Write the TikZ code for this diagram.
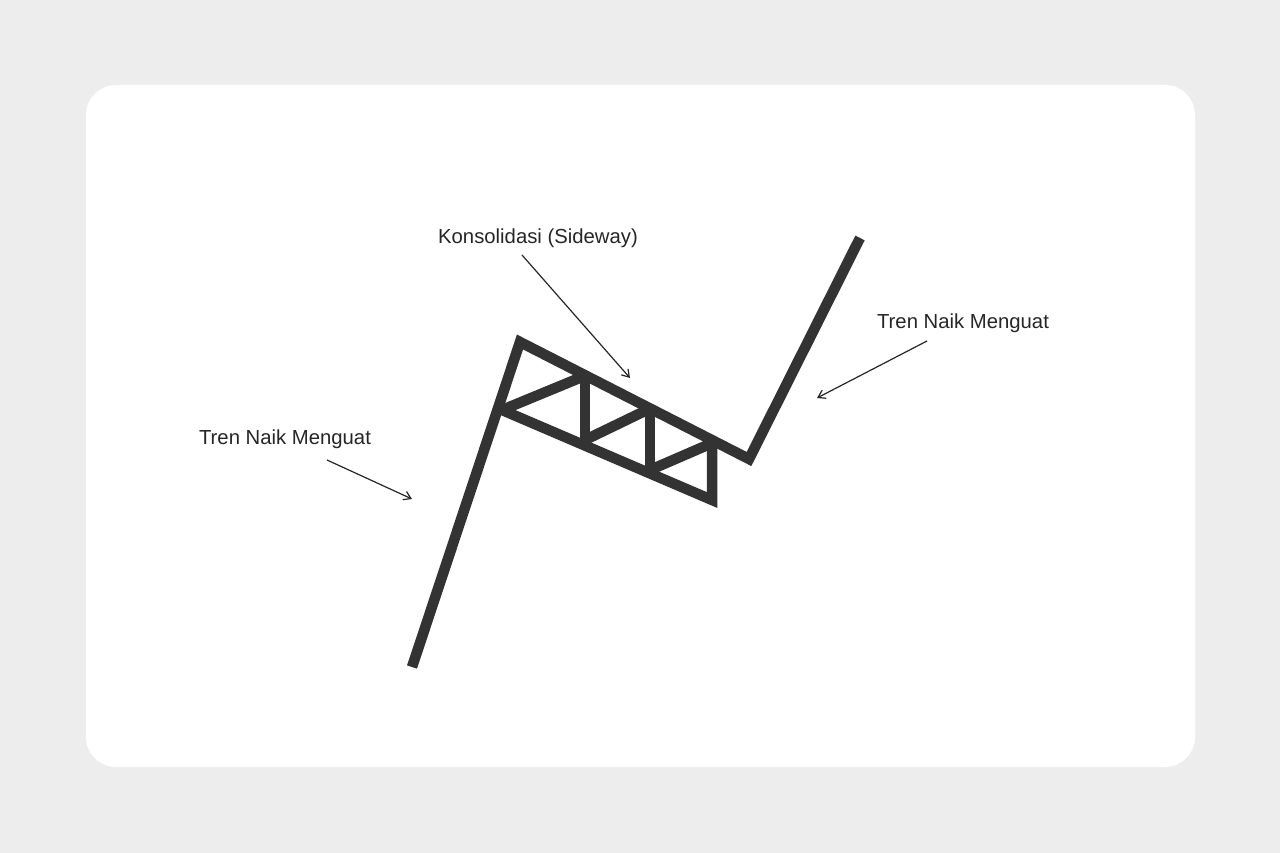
\documentclass[tikz,border=0pt]{standalone}
\usepackage{fontspec}
\setmainfont{Liberation Sans}
\usetikzlibrary{arrows.meta}
\begin{document}
\begin{tikzpicture}[x=1pt,y=-1pt,
  bar/.style={line width=10.5pt,draw=black!80,line join=miter},
  lbl/.style={font=\fontsize{20.3}{22}\selectfont,text=black!85,inner sep=0pt},
  pointer/.style={line width=1.2pt,black!85,-{Straight Barb[length=7pt,width=9pt]}}]
\fill[black!7] (0,0) rectangle (1280,853);
\useasboundingbox (0,0) rectangle (1280,853);
\fill[white,rounded corners=30pt] (86,85) rectangle (1195,767);
\coordinate (p0) at (412,667);
\coordinate (pk) at (520,342);
\coordinate (lj) at (502,410);
\coordinate (tr) at (749,459);
\coordinate (ep) at (860,238);
\coordinate (le) at (712,500);
\draw[bar] (p0) -- (pk) -- (tr) -- (ep);
\draw[bar] (lj) -- (le) -- (712,445);
\draw[bar] (585,378) -- (585,440);
\draw[bar] (650,411) -- (650,470);
\draw[bar] (lj) -- (582,377);
\draw[bar] (585,440) -- (647,410);
\draw[bar] (650,470) -- (710,444);
\node[lbl] (k) at (538,238) {Konsolidasi (Sideway)};
\node[lbl] (t1) at (285,439) {Tren Naik Menguat};
\node[lbl] (t2) at (963,323) {Tren Naik Menguat};
\coordinate (a1) at (630,378);
\coordinate (a2) at (412,499);
\coordinate (a3) at (817,398);
\draw[pointer] (522,255) -- (a1);
\draw[pointer] (327,460) -- (a2);
\draw[pointer] (927,341) -- (a3);
\end{tikzpicture}
\end{document}
